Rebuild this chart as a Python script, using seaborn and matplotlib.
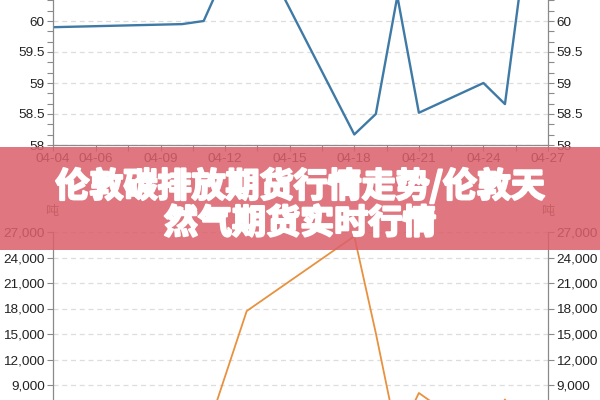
import pandas as pd
import matplotlib.pyplot as plt
import matplotlib.patheffects as pe
from matplotlib.patches import Rectangle
from matplotlib.ticker import AutoMinorLocator, FuncFormatter, FixedLocator
import matplotlib.dates as mdates
import seaborn as sns

# 数据 (2023年4月)
dates = ['2023-04-04', '2023-04-10', '2023-04-11', '2023-04-13', '2023-04-18', '2023-04-19',
         '2023-04-20', '2023-04-21', '2023-04-24', '2023-04-25', '2023-04-26']
carbon_price = [59.90, 59.95, 60.00, 61.55, 58.17, 58.50, 60.40, 58.52, 59.00, 58.66, 61.30]
gas_volume = [3000, 2500, 2400, 17700, 26500, 15100, 2800, 8060, 2700, 7300, 3500]

tick_dates = ['2023-04-04', '2023-04-06', '2023-04-09', '2023-04-12', '2023-04-15',
              '2023-04-18', '2023-04-21', '2023-04-24', '2023-04-27']
tick_labels = ['04-04', '04-06', '04-09', '04-12', '04-15', '04-18', '04-21', '04-24', '04-27']

# 画面内可见的刻度
price_ticks = [58, 58.5, 59, 59.5, 60]
volume_ticks = [9000, 12000, 15000, 18000, 21000, 24000, 27000]

title_lines = ['伦敦碳排放期货行情走势/伦敦天', '然气期货实时行情']
unit = '吨'

sns.set_style('white')
plt.rcParams['font.family'] = ['Liberation Sans', 'Noto Sans CJK SC', 'DejaVu Sans']

df = pd.DataFrame({'date': pd.to_datetime(dates), 'price': carbon_price, 'volume': gas_volume})

fig = plt.figure(figsize=(6, 4), dpi=100)
W, H = 600, 400

def box(left, right, top_px, bottom_px):
    return [left / W, 1 - bottom_px / H, (right - left) / W, (bottom_px - top_px) / H]

# 上图: 58 在 y=145, 每单位 62 px
ax1 = fig.add_axes(box(53, 548, 145 - 4 * 62, 145))
# 下图: 27000 在 y=232, 每千 8.5 px
ax2 = fig.add_axes(box(53, 548, 232, 232 + 27 * 8.5))

x0 = pd.Timestamp('2023-04-04')
x1 = pd.Timestamp('2023-04-27')

sns.lineplot(data=df, x='date', y='price', ax=ax1, color='#3f7aa6', linewidth=1.7)
sns.lineplot(data=df, x='date', y='volume', ax=ax2, color='#e8913f', linewidth=1.3)

major = [mdates.date2num(pd.Timestamp(d)) for d in tick_dates]
minor = [mdates.date2num(pd.Timestamp('2023-04-07') + pd.Timedelta(hours=12) + pd.Timedelta(days=3 * i))
         for i in range(7)]

for ax in (ax1, ax2):
    ax.set_xlim(x0, x1)
    ax.set_xlabel('')
    ax.set_ylabel('')
    ax.xaxis.set_major_locator(FixedLocator(major))
    ax.xaxis.set_minor_locator(FixedLocator(minor))
    ax.set_xticklabels(tick_labels)
    ax.grid(axis='y', color='#dddddd', linestyle=(0, (4, 3)), linewidth=0.9)
    ax.grid(axis='x', visible=False)
    for s in ('left', 'right', 'bottom'):
        ax.spines[s].set_color('#8a8a8a')
        ax.spines[s].set_linewidth(0.9)
    ax.spines['top'].set_visible(False)
    ax.tick_params(which='both', direction='out', length=4, width=0.8, color='#8a8a8a',
                   labelsize=9.7, labelcolor='#222222', left=True, right=True, bottom=True,
                   labelleft=True, labelright=True, pad=2)

ax2.tick_params(axis='x', which='both', labelbottom=False)

ax1.set_ylim(58, 62)
ax1.yaxis.set_major_locator(FixedLocator(price_ticks))
ax1.yaxis.set_minor_locator(AutoMinorLocator(3))
ax1.yaxis.set_major_formatter(FuncFormatter(lambda v, p: f'{v:g}'))

ax2.set_ylim(0, 27000)
ax2.yaxis.set_major_locator(FixedLocator(volume_ticks))
ax2.yaxis.set_major_formatter(FuncFormatter(lambda v, p: f'{v:,.0f}'))

# 单位
for xpx in (52, 548):
    fig.text(xpx / W, 1 - 211 / H, unit, ha='center', va='center', fontsize=9.5, color='#555555',
             family=['Noto Sans CJK SC', 'DejaVu Sans'], zorder=5)

# 红色横幅
banner = Rectangle((0, 1 - 250 / H), 1, 103 / H, transform=fig.transFigure,
                   facecolor='#db606a', alpha=0.86, edgecolor='none', zorder=10)
fig.add_artist(banner)

for i, line in enumerate(title_lines):
    fig.text(0.5, 1 - (186 + 37 * i) / H, line, ha='center', va='center', fontsize=24.5,
             color='white', weight='bold', family=['Noto Sans CJK SC', 'DejaVu Sans'], zorder=11,
             path_effects=[pe.withStroke(linewidth=1.6, foreground='white')])

plt.savefig('out.png', dpi=100)
